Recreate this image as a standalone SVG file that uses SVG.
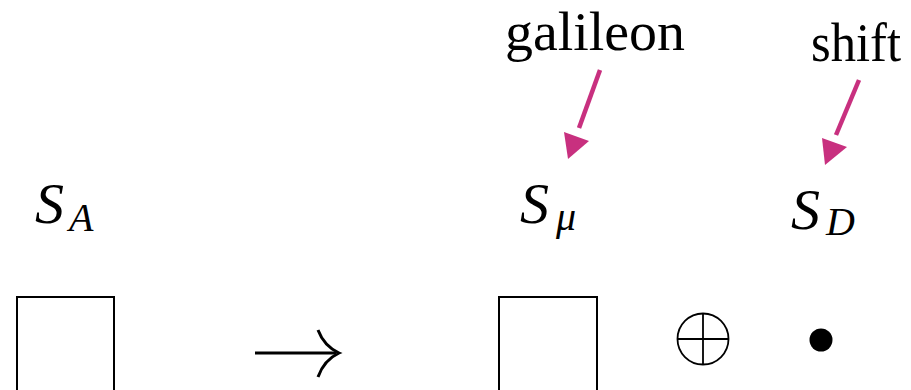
<svg xmlns="http://www.w3.org/2000/svg" width="911" height="390" viewBox="0 0 911 390">
<style>
text{font-family:'Liberation Serif','DejaVu Serif',serif;fill:#000}
.m{font-style:italic}
.box{fill:none;stroke:#000;stroke-width:2}
.pk{stroke:#C8307F;stroke-width:4.5;fill:none}
.pkh{fill:#C8307F}
</style>
<rect width="911" height="390" fill="#fff"/>
<g id="label-galileon"><text x="505" y="50" font-size="54" textLength="180" lengthAdjust="spacingAndGlyphs">galileon</text></g>
<g id="label-shift"><text x="811" y="61" font-size="54" textLength="90" lengthAdjust="spacingAndGlyphs">shift</text></g>
<g id="SA"><text class="m" x="35" y="223" font-size="58">S</text><text class="m" x="69" y="231" font-size="40">A</text></g>
<g id="Smu"><text class="m" x="520" y="223" font-size="58">S</text><text class="m" x="556" y="230" font-size="40">μ</text></g>
<g id="SD"><text class="m" x="791" y="229" font-size="58">S</text><text class="m" x="826" y="235" font-size="40">D</text></g>
<g id="boxA"><path class="box" d="M17,391 V297 H114 V391"/></g>
<g id="boxMu"><path class="box" d="M499,391 V297 H597 V391"/></g>
<g id="oplus"><circle cx="703" cy="339" r="25.5" fill="none" stroke="#000" stroke-width="1.8"/><path d="M677.5,339 H728.5 M703,313.5 V364.5" stroke="#000" stroke-width="1.8"/></g>
<g id="dot"><circle cx="821" cy="340" r="11.5" fill="#000"/></g>
<g id="connectors">
<g id="to-arrow"><path d="M255,353 H336" stroke="#000" stroke-width="3.2" fill="none"/><path d="M318,330 Q324,346 339,353 Q324,360 318,377" stroke="#000" stroke-width="3" fill="none"/></g>
<g id="arrow-galileon"><path class="pk" d="M600,70 L579,128"/><path class="pkh" d="M568,159 L564,132 L589,141 Z"/></g>
<g id="arrow-shift"><path class="pk" d="M859,80 L836,135"/><path class="pkh" d="M825,165 L822,138 L847,147 Z"/></g>
</g>
</svg>
